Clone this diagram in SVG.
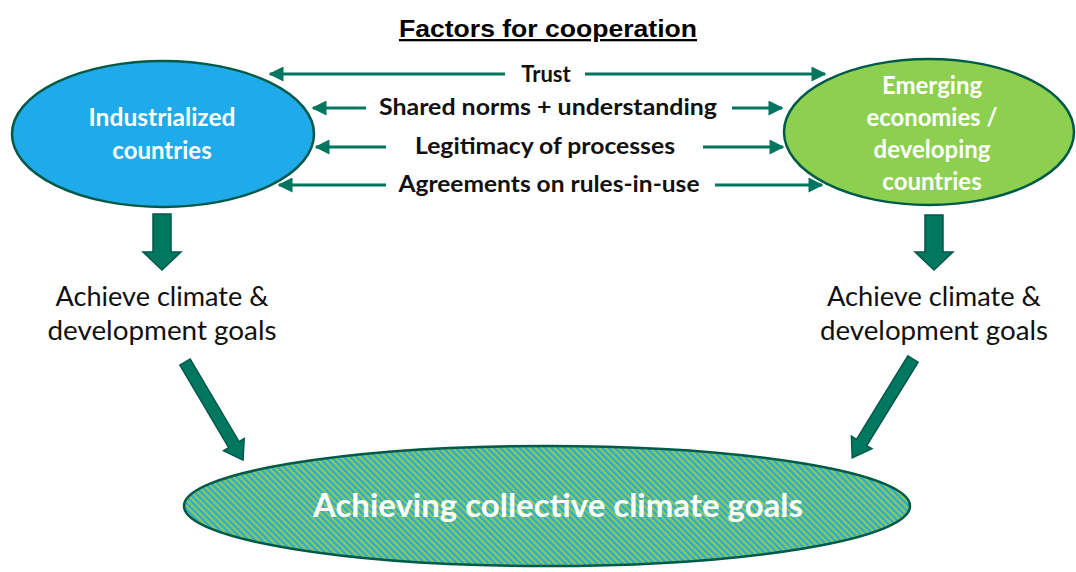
<svg xmlns="http://www.w3.org/2000/svg" width="1076" height="572" viewBox="0 0 1076 572">
<defs>
<style>
.node{stroke:#005a48;stroke-width:2.5}
.conn{stroke:#00755f;stroke-width:3;fill:none}
.block{fill:#00775f;stroke:#00574a;stroke-width:1.5}
.lbl{font-family:Lato,"Open Sans",sans-serif;font-weight:bold;font-size:22px;fill:#111;text-anchor:middle}
.wt{font-family:Lato,"Open Sans",sans-serif;font-weight:bold;font-size:24px;fill:#fff;text-anchor:middle}
.reg{font-family:Lato,"Open Sans",sans-serif;font-size:26px;fill:#111;text-anchor:middle}
</style>
<marker id="ah" viewBox="0 0 10 10" refX="9" refY="5" markerWidth="5.5" markerHeight="5" orient="auto-start-reverse" markerUnits="strokeWidth">
<path d="M0,0 L10,5 L0,10 z" fill="#00755f"/>
</marker>
<pattern id="stripes" width="4.5" height="4.5" patternUnits="userSpaceOnUse" patternTransform="rotate(-45)">
<rect width="4.5" height="4.5" fill="#8dcb4f"/>
<rect width="2.25" height="4.5" fill="#2aa8e0"/>
</pattern>
</defs>
<rect width="1076" height="572" fill="#fff"/>

<g id="title">
<text x="548" y="37" font-family="Liberation Sans,Arial,sans-serif" font-weight="bold" font-size="23" text-anchor="middle" fill="#000" text-decoration="underline" textLength="298" lengthAdjust="spacingAndGlyphs">Factors for cooperation</text>
</g>

<g id="industrialized">
<ellipse class="node" cx="163" cy="134" rx="151" ry="73" fill="#1faaea"/>
<text class="wt" x="162" y="126" textLength="147" lengthAdjust="spacingAndGlyphs">Industrialized</text>
<text class="wt" x="162" y="159">countries</text>
</g>

<g id="emerging">
<ellipse class="node" cx="929" cy="132" rx="145" ry="73" fill="#8dd050"/>
<text class="wt" x="932" y="94">Emerging</text>
<text class="wt" x="932" y="126" textLength="131" lengthAdjust="spacingAndGlyphs">economies /</text>
<text class="wt" x="932" y="158">developing</text>
<text class="wt" x="932" y="190">countries</text>
</g>

<g id="collective">
<ellipse class="node" cx="547" cy="506" rx="363" ry="60" fill="url(#stripes)"/>
<text x="558" y="517" font-family="Lato,'Open Sans',sans-serif" font-weight="bold" font-size="33" fill="#fff" text-anchor="middle" textLength="490" lengthAdjust="spacingAndGlyphs">Achieving collective climate goals</text>
</g>

<g id="factor-labels">
<text class="lbl" x="546" y="82">Trust</text>
<text class="lbl" x="548" y="115" textLength="338" lengthAdjust="spacingAndGlyphs">Shared norms + understanding</text>
<text class="lbl" x="545" y="154" textLength="260" lengthAdjust="spacingAndGlyphs">Legitimacy of processes</text>
<text class="lbl" x="549" y="192" textLength="301" lengthAdjust="spacingAndGlyphs">Agreements on rules-in-use</text>
</g>

<g id="goal-left">
<text class="reg" x="162" y="306" textLength="213" lengthAdjust="spacingAndGlyphs">Achieve climate &amp;</text>
<text class="reg" x="162" y="340" textLength="229" lengthAdjust="spacingAndGlyphs">development goals</text>
</g>
<g id="goal-right">
<text class="reg" x="934" y="306" textLength="214" lengthAdjust="spacingAndGlyphs">Achieve climate &amp;</text>
<text class="reg" x="934" y="340" textLength="228" lengthAdjust="spacingAndGlyphs">development goals</text>
</g>

<g id="connectors">
<line class="conn" x1="505" y1="74" x2="270" y2="74" marker-end="url(#ah)"/>
<line class="conn" x1="585" y1="74" x2="825" y2="74" marker-end="url(#ah)"/>
<line class="conn" x1="366" y1="108" x2="313" y2="108" marker-end="url(#ah)"/>
<line class="conn" x1="732" y1="108" x2="782" y2="108" marker-end="url(#ah)"/>
<line class="conn" x1="386" y1="147" x2="316" y2="147" marker-end="url(#ah)"/>
<line class="conn" x1="703" y1="147" x2="783" y2="147" marker-end="url(#ah)"/>
<line class="conn" x1="386" y1="185" x2="279" y2="185" marker-end="url(#ah)"/>
<line class="conn" x1="715" y1="185" x2="822" y2="185" marker-end="url(#ah)"/>

<path class="block" d="M153,214 H171 V252 H181 L162,270 L143,252 H153 Z"/>
<path class="block" d="M925,215 H943 V252 H953 L934,270 L915,252 H925 Z"/>
<path class="block" transform="translate(185,362) rotate(-30.6)" d="M-6,0 H6 V96 H12 L0,114 L-12,96 H-6 Z"/>
<path class="block" transform="translate(913,359) rotate(31.6)" d="M-6,0 H6 V98 H12 L0,116 L-12,98 H-6 Z"/>
</g>
</svg>
